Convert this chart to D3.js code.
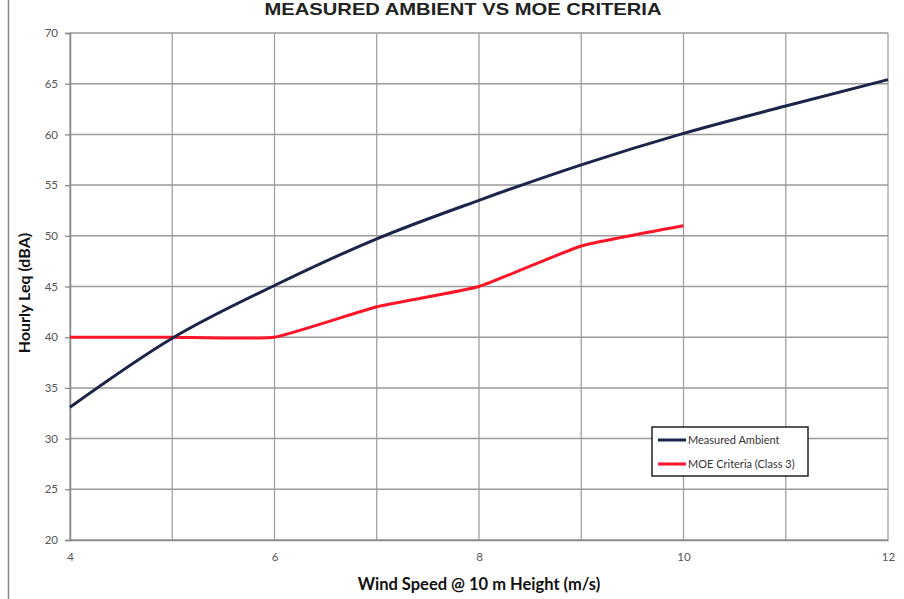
<!DOCTYPE html>
<html><head><meta charset="utf-8">
<script src="https://cdn.jsdelivr.net/npm/d3@7"></script>
<style>body{margin:0;background:#fff}svg{display:block}</style>
</head><body>
<svg id="c" width="904" height="599"></svg>
<script>
const windSpeed = [4, 5, 6, 7, 8, 9, 10, 11, 12];
const measuredAmbient = [33.1, 39.9, 45.1, 49.7, 53.5, 57.0, 60.1, 62.8, 65.4];
const moeSpeed = [4, 5, 6, 7, 8, 9, 10];
const moeCriteria = [40, 40, 40, 43, 45, 49, 51];
const xTicks = [4, 6, 8, 10, 12];
const yTicks = [20, 25, 30, 35, 40, 45, 50, 55, 60, 65, 70];
const seriesNames = ["Measured Ambient", "MOE Criteria (Class 3)"];
const seriesColors = ["#1b2549", "#ff1428"];

const svg = d3.select("#c");
const m = {l: 70, r: 888, t: 33, b: 540};
const x = d3.scaleLinear().domain([4, 12]).range([m.l, m.r]);
const y = d3.scaleLinear().domain([20, 70]).range([m.b, m.t]);
const font = "Lato, 'Open Sans', sans-serif";

// left page border line
svg.append("line").attr("x1", 8.5).attr("x2", 8.5).attr("y1", 0).attr("y2", 599)
  .attr("stroke", "#8a8a8a").attr("stroke-width", 1.5);

// title
svg.append("text").attr("x", 463).attr("y", 15).attr("text-anchor", "middle")
  .attr("font-family", "'Liberation Sans', Arial, sans-serif").attr("font-weight", "bold")
  .attr("font-size", 17).attr("fill", "#222").attr("textLength", 397)
  .attr("lengthAdjust", "spacingAndGlyphs").text("MEASURED AMBIENT VS MOE CRITERIA");

// grid
const g = svg.append("g");
g.selectAll(".vg").data(d3.range(4, 13)).join("line")
  .attr("x1", d => x(d)).attr("x2", d => x(d)).attr("y1", m.t).attr("y2", m.b)
  .attr("stroke", "#a0a0a0").attr("stroke-width", 1.3);
g.selectAll(".hg").data(yTicks).join("line")
  .attr("x1", m.l).attr("x2", m.r).attr("y1", d => y(d)).attr("y2", d => y(d))
  .attr("stroke", "#9a9a9a").attr("stroke-width", 1.5);

// axes
const yAxis = svg.append("g").attr("transform", `translate(${m.l},0)`)
  .call(d3.axisLeft(y).tickValues(yTicks).tickSize(5).tickPadding(7));
const xAxis = svg.append("g").attr("transform", `translate(0,${m.b})`)
  .call(d3.axisBottom(x).tickValues(xTicks).tickSize(0).tickPadding(13));
[yAxis, xAxis].forEach(a => {
  a.select(".domain").attr("stroke", "#8a8a8a").attr("stroke-width", 1.5);
  a.selectAll(".tick line").attr("stroke", "#8a8a8a").attr("stroke-width", 1.3);
  a.selectAll("text").attr("font-family", font).attr("font-size", 11.5).attr("fill", "#555");
});

// lines
const lineB = d3.line().x(d => x(d[0])).y(d => y(d[1])).curve(d3.curveMonotoneX);
const lineR = d3.line().x(d => x(d[0])).y(d => y(d[1])).curve(d3.curveCardinal.tension(0.6));
svg.append("path").datum(d3.zip(moeSpeed, moeCriteria)).attr("d", lineR)
  .attr("fill", "none").attr("stroke", seriesColors[1]).attr("stroke-width", 3);
svg.append("path").datum(d3.zip(windSpeed, measuredAmbient)).attr("d", lineB)
  .attr("fill", "none").attr("stroke", seriesColors[0]).attr("stroke-width", 3);

// axis titles
svg.append("text").attr("x", 479).attr("y", 590).attr("text-anchor", "middle")
  .attr("font-family", font).attr("font-weight", "bold").attr("font-size", 16.5)
  .attr("fill", "#111").text("Wind Speed @ 10 m Height (m/s)");
svg.append("text").attr("transform", "translate(30,293) rotate(-90)").attr("text-anchor", "middle")
  .attr("font-family", font).attr("font-weight", "bold").attr("font-size", 16)
  .attr("fill", "#111").text("Hourly Leq (dBA)");

// legend
const lg = svg.append("g");
lg.append("rect").attr("x", 652).attr("y", 427).attr("width", 156).attr("height", 49)
  .attr("fill", "#fff").attr("stroke", "#222").attr("stroke-width", 1.5);
seriesNames.forEach((n, i) => {
  const yy = 440 + i * 24;
  lg.append("line").attr("x1", 658).attr("x2", 686).attr("y1", yy).attr("y2", yy)
    .attr("stroke", seriesColors[i]).attr("stroke-width", 3);
  lg.append("text").attr("x", 688).attr("y", yy + 4).attr("font-family", font)
    .attr("font-size", 11).attr("fill", "#333").text(n);
});
</script>
</body></html>
